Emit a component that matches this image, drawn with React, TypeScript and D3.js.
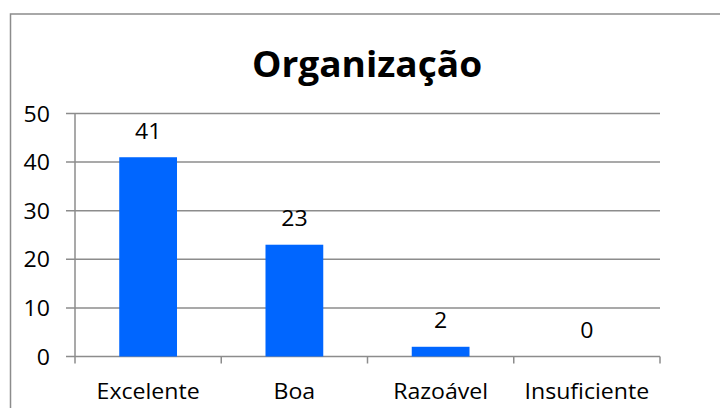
import React, { useEffect, useRef } from 'react';
import * as d3 from 'd3';

const categories = ['Excelente', 'Boa', 'Razoável', 'Insuficiente'];
const values = [41, 23, 2, 0];
const yTicks = [0, 10, 20, 30, 40, 50];
const title = 'Organização';

function App() {
  const ref = useRef<SVGSVGElement | null>(null);

  useEffect(() => {
    const svg = d3.select(ref.current);
    svg.selectAll('*').remove();

    const left = 75, right = 660, top = 113.5, bottom = 356.5;
    const font = "'Open Sans', sans-serif";
    const stretch = 1.1; // text in the picture is a bit wide
    const fs = 21;
    const grey = '#8c8c8c';

    // outer frame (runs off the right and bottom edge)
    svg.append('rect')
      .attr('x', 10.5).attr('y', 14)
      .attr('width', 760).attr('height', 440)
      .attr('fill', 'white')
      .attr('stroke', grey).attr('stroke-width', 1.5);

    const x = d3.scaleBand().domain(categories).range([left, right]).padding(0);
    const y = d3.scaleLinear().domain([0, 50]).range([bottom, top]);

    // gridlines
    svg.append('g')
      .selectAll('line')
      .data(yTicks)
      .join('line')
      .attr('x1', left - 9).attr('x2', right)
      .attr('y1', d => y(d)).attr('y2', d => y(d))
      .attr('stroke', grey).attr('stroke-width', 1.5);

    // y axis line
    svg.append('line')
      .attr('x1', left).attr('x2', left)
      .attr('y1', top).attr('y2', bottom + 7)
      .attr('stroke', grey).attr('stroke-width', 1.5);

    // x ticks at category boundaries
    const bounds = categories.map(c => x(c) as number).concat([right]);
    svg.append('g')
      .selectAll('line')
      .data(bounds.slice(1))
      .join('line')
      .attr('x1', d => d).attr('x2', d => d)
      .attr('y1', bottom).attr('y2', bottom + 7)
      .attr('stroke', grey).attr('stroke-width', 1.5);

    // y tick labels
    svg.append('g')
      .selectAll('text')
      .data(yTicks)
      .join('text')
      .attr('transform', d => `translate(50,${y(d) + 8}) scale(${stretch},1)`)
      .attr('text-anchor', 'end')
      .attr('font-family', font).attr('font-size', fs)
      .attr('fill', '#000')
      .text(d => d);

    // bars
    const bw = x.bandwidth() * 0.395;
    const data = categories.map((c, i) => ({ c, v: values[i] }));
    svg.append('g')
      .selectAll('rect')
      .data(data.filter(d => d.v > 0))
      .join('rect')
      .attr('x', d => (x(d.c) as number) + x.bandwidth() / 2 - bw / 2)
      .attr('y', d => y(d.v))
      .attr('width', bw)
      .attr('height', d => y(0) - y(d.v))
      .attr('fill', '#0066ff');

    // value labels
    svg.append('g')
      .selectAll('text')
      .data(data)
      .join('text')
      .attr('transform', d =>
        `translate(${(x(d.c) as number) + x.bandwidth() / 2},${y(d.v) - 18.5}) scale(${stretch},1)`)
      .attr('text-anchor', 'middle')
      .attr('font-family', font).attr('font-size', fs)
      .text(d => d.v);

    // category labels
    svg.append('g')
      .selectAll('text')
      .data(categories)
      .join('text')
      .attr('transform', d =>
        `translate(${(x(d) as number) + x.bandwidth() / 2},399) scale(${stretch},1)`)
      .attr('text-anchor', 'middle')
      .attr('font-family', font).attr('font-size', fs)
      .text(d => d);

    // title
    svg.append('text')
      .attr('transform', `translate(367,77) scale(1.03,1)`)
      .attr('text-anchor', 'middle')
      .attr('font-family', font).attr('font-size', 36)
      .attr('font-weight', 'bold')
      .text(title);
  }, []);

  return (
    <svg
      ref={ref}
      width={720}
      height={408}
      style={{ position: 'absolute', left: 0, top: 0, display: 'block', background: 'white' }}
    />
  );
}

export default App;
